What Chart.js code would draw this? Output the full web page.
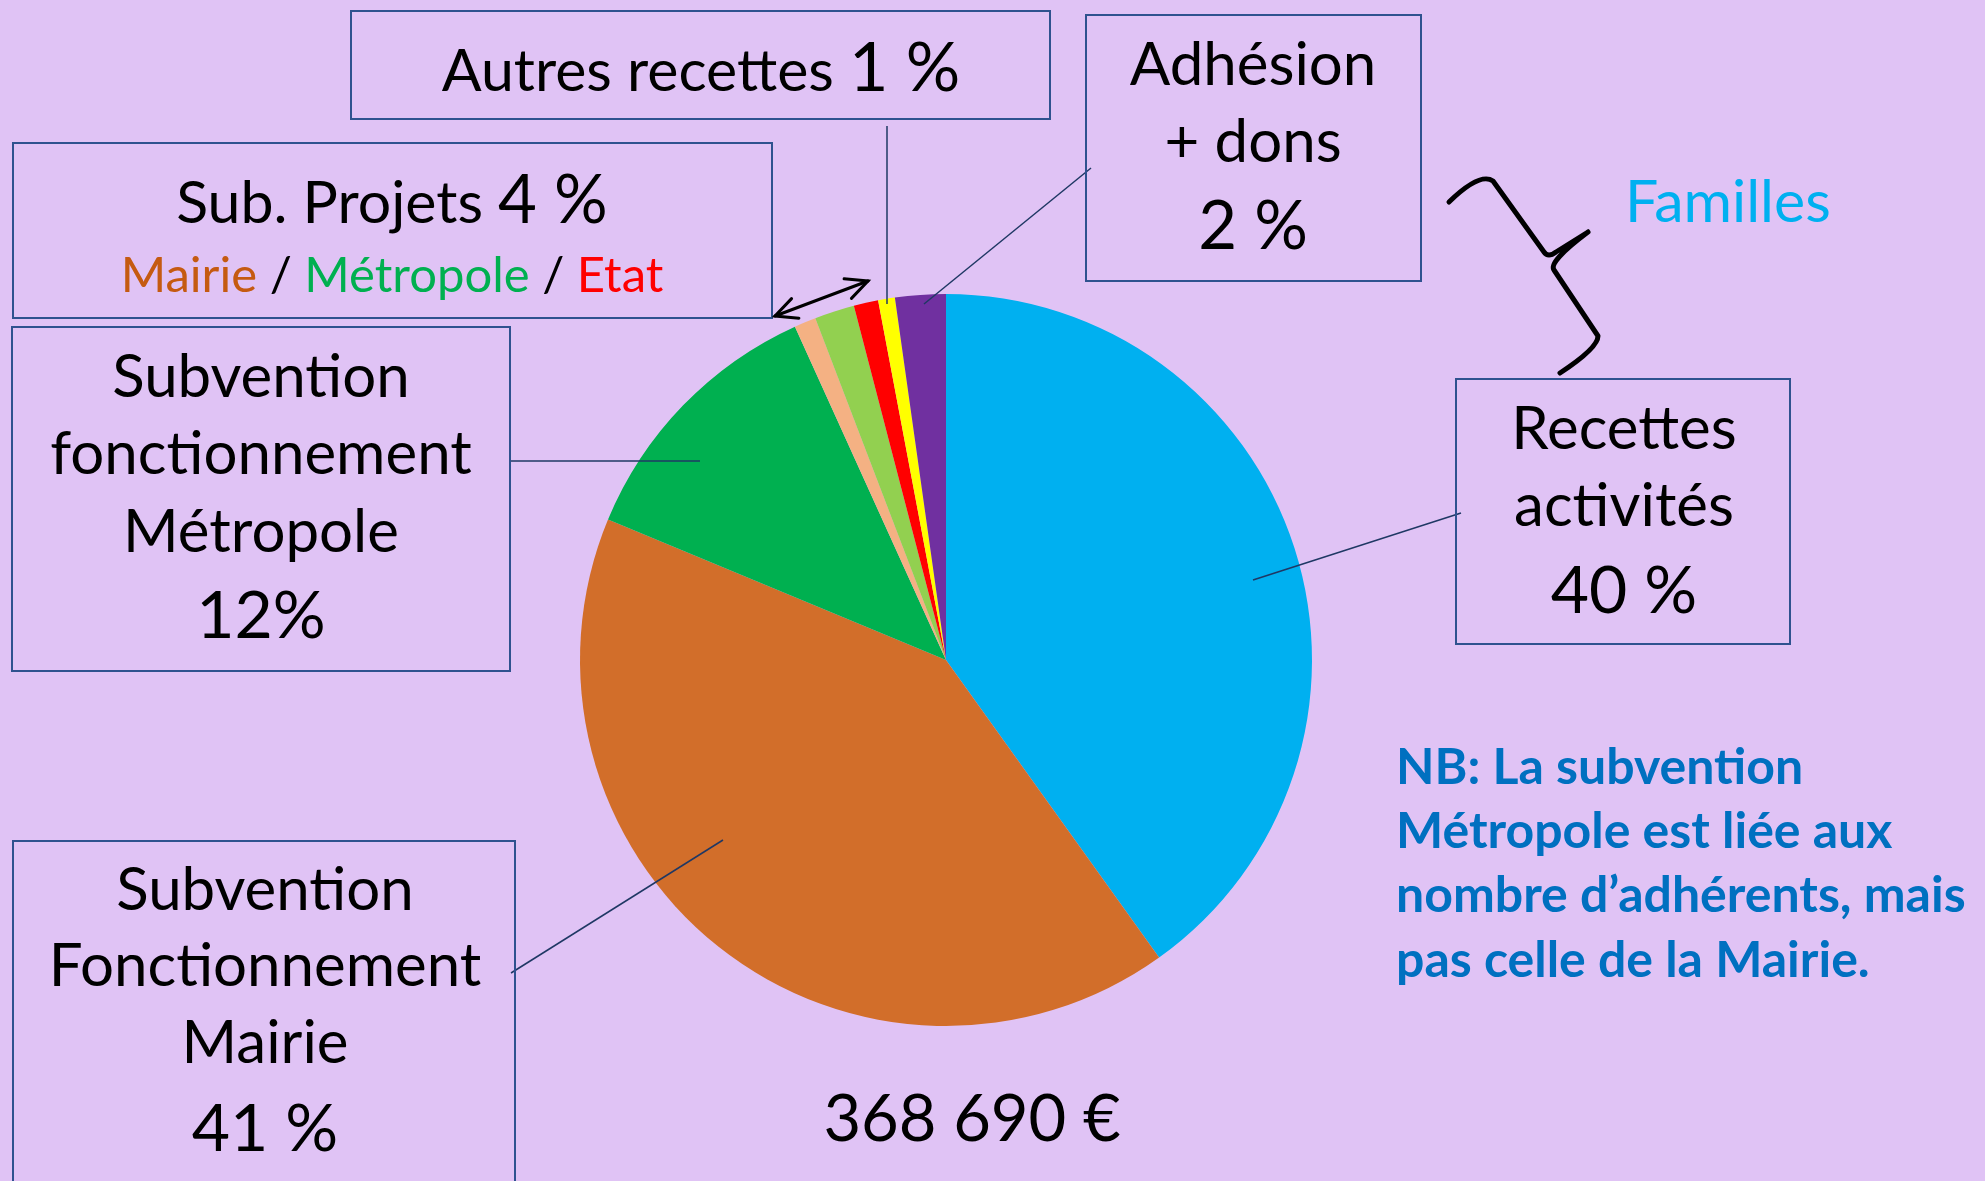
<!DOCTYPE html>
<html lang="fr">
<head>
<meta charset="utf-8">
<title>Recettes 368 690 €</title>
<script src="https://cdn.jsdelivr.net/npm/chart.js@4"></script>
<style>
    html, body { margin: 0; padding: 0; background: #E0C3F5; overflow: hidden; }
    canvas { display: block; background: #E0C3F5; }
</style>
</head>
<body>
<canvas id="recettesChart" width="1985" height="1181"></canvas>
<script>
// Slices, clockwise from 12 o'clock (share of 368 690 €, in %)
const categories = [
    'Recettes activités',
    'Subvention Fonctionnement Mairie',
    'Subvention fonctionnement Métropole',
    'Sub. Projets Mairie',
    'Sub. Projets Métropole',
    'Sub. Projets Etat',
    'Autres recettes',
    'Adhésion + dons'
];
const shares = [40.1, 41.15, 11.96, 0.96, 1.76, 1.08, 0.74, 2.23];
const sliceColors = ['#00B0F0', '#D26E2A', '#00B050', '#F4B183', '#92D050', '#FF0000', '#FFFF00', '#7030A0'];

const totalLabel = '368 690 €';
const noteLines = [
    'NB: La subvention',
    'Métropole est liée aux',
    'nombre d’adhérents, mais',
    'pas celle de la Mairie.'
];

const FONT = 'Lato, "Open Sans", sans-serif';
const BOX_COLOR = '#2F528F';
const LEADER_COLOR = '#1F3864';

// Callout boxes: rectangle, centre of text, and lines made of segments
const callouts = [
    {
        rect: [351, 11, 699, 108], cx: 701,
        lines: [{ y: 91, parts: [['Autres recettes ', 59], ['1 %', 68]] }],
        leader: [887, 126, 887, 304]
    },
    {
        rect: [13, 143, 759, 175], cx: 392,
        lines: [
            { y: 223, parts: [['Sub. Projets ', 59], ['4 %', 67]] },
            { y: 292, parts: [['Mairie', 49, '#C55A11'], [' / ', 49], ['Métropole', 49, '#00B050'], [' / ', 49], ['Etat', 49, '#FF0000']] }
        ]
    },
    {
        rect: [1086, 15, 335, 266], cx: 1253,
        lines: [
            { y: 85, parts: [['Adhésion', 60]] },
            { y: 162, parts: [['+ dons', 60]] },
            { y: 249, parts: [['2 %', 67]] }
        ],
        leader: [1091, 168, 924, 304]
    },
    {
        rect: [1456, 379, 334, 265], cx: 1624,
        lines: [
            { y: 449, parts: [['Recettes', 60]] },
            { y: 526, parts: [['activités', 60]] },
            { y: 613, parts: [['40 %', 66]] }
        ],
        leader: [1461, 513, 1253, 580]
    },
    {
        rect: [12, 327, 498, 344], cx: 261,
        lines: [
            { y: 397, parts: [['Subvention', 60]] },
            { y: 474, parts: [['fonctionnement', 60]] },
            { y: 552, parts: [['Métropole', 60]] },
            { y: 638, parts: [['12%', 66]] }
        ],
        leader: [510, 461, 700, 461]
    },
    {
        rect: [13, 841, 502, 400], cx: 265,
        lines: [
            { y: 910, parts: [['Subvention', 60]] },
            { y: 986, parts: [['Fonctionnement', 60]] },
            { y: 1063, parts: [['Mairie', 60]] },
            { y: 1151, parts: [['41 %', 66]] }
        ],
        leader: [511, 973, 723, 840]
    }
];

// Draw one line of mixed-size text centred on cx
function drawLine(ctx, parts, cx, y) {
    let total = 0;
    parts.forEach(p => {
        ctx.font = p[1] + 'px ' + FONT;
        total += ctx.measureText(p[0]).width;
    });
    let x = cx - total / 2;
    parts.forEach(p => {
        ctx.font = p[1] + 'px ' + FONT;
        ctx.fillStyle = p[2] || '#000000';
        ctx.fillText(p[0], x, y);
        x += ctx.measureText(p[0]).width;
    });
}

function arrowHead(ctx, x, y, fromX, fromY, len) {
    const a = Math.atan2(y - fromY, x - fromX);
    ctx.beginPath();
    ctx.moveTo(x - len * Math.cos(a - 0.45), y - len * Math.sin(a - 0.45));
    ctx.lineTo(x, y);
    ctx.lineTo(x - len * Math.cos(a + 0.45), y - len * Math.sin(a + 0.45));
    ctx.stroke();
}

const annotationsPlugin = {
    id: 'annotations',
    afterDraw(chart) {
        const ctx = chart.ctx;
        ctx.save();
        ctx.textBaseline = 'alphabetic';
        ctx.textAlign = 'left';

        callouts.forEach(c => {
            if (c.leader) {
                ctx.strokeStyle = LEADER_COLOR;
                ctx.lineWidth = 1.5;
                ctx.beginPath();
                ctx.moveTo(c.leader[0], c.leader[1]);
                ctx.lineTo(c.leader[2], c.leader[3]);
                ctx.stroke();
            }
            ctx.strokeStyle = BOX_COLOR;
            ctx.lineWidth = 2;
            ctx.strokeRect(c.rect[0], c.rect[1], c.rect[2], c.rect[3]);
            c.lines.forEach(l => drawLine(ctx, l.parts, c.cx, l.y));
        });

        // Double arrow pointing at the project subsidies
        ctx.strokeStyle = '#000000';
        ctx.lineWidth = 3;
        ctx.lineCap = 'round';
        ctx.beginPath();
        ctx.moveTo(775, 316);
        ctx.lineTo(868, 281);
        ctx.stroke();
        arrowHead(ctx, 775, 316, 868, 281, 24);
        arrowHead(ctx, 868, 281, 775, 316, 24);

        // Brace grouping "Adhésion + dons" and "Recettes activités"
        ctx.lineWidth = 5;
        ctx.lineJoin = 'round';
        ctx.beginPath();
        ctx.moveTo(1449, 202);
        ctx.quadraticCurveTo(1480, 172, 1493, 181);
        ctx.lineTo(1544, 252);
        ctx.quadraticCurveTo(1548, 258, 1556, 252);
        ctx.lineTo(1588, 232);
        ctx.moveTo(1588, 232);
        ctx.quadraticCurveTo(1548, 262, 1554, 270);
        ctx.lineTo(1598, 336);
        ctx.quadraticCurveTo(1598, 348, 1560, 373);
        ctx.stroke();

        ctx.font = '59px ' + FONT;
        ctx.fillStyle = '#00B0F0';
        ctx.fillText('Familles', 1625, 222);

        ctx.font = 'bold 50px ' + FONT;
        ctx.fillStyle = '#0070C0';
        noteLines.forEach((t, i) => ctx.fillText(t, 1396, 784 + i * 64.2));

        ctx.font = '65px ' + FONT;
        ctx.fillStyle = '#000000';
        ctx.textAlign = 'center';
        ctx.fillText(totalLabel, 972, 1141);

        ctx.restore();
    }
};

const ctx = document.getElementById('recettesChart').getContext('2d');
new Chart(ctx, {
    type: 'pie',
    data: {
        labels: categories,
        datasets: [{
            data: shares,
            backgroundColor: sliceColors,
            borderWidth: 0,
            offset: 0,
            hoverOffset: 0
        }]
    },
    options: {
        responsive: false,
        devicePixelRatio: 1,
        animation: false,
        events: [],
        // puts the pie centre at (946, 660) with a 366 px radius
        layout: {
            padding: { left: 580, right: 673, top: 294, bottom: 155 }
        },
        plugins: {
            legend: { display: false },
            tooltip: { enabled: false },
            title: { display: false }
        }
    },
    plugins: [annotationsPlugin]
});
</script>
</body>
</html>
